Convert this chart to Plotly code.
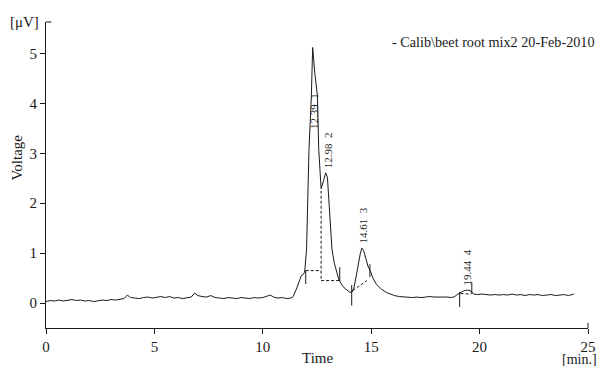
import plotly.graph_objects as go

# ---- chromatogram signal ----
time_min = [
    0.0, 0.2, 0.4, 0.6, 0.8, 1.0, 1.2, 1.4, 1.6, 1.8, 2.0, 2.2, 2.4, 2.6, 2.8,
    3.0, 3.2, 3.4, 3.6, 3.75, 3.9, 4.1, 4.3, 4.5, 4.7, 4.9, 5.1, 5.3, 5.5, 5.7,
    5.9, 6.1, 6.3, 6.5, 6.7, 6.85, 7.0, 7.2, 7.4, 7.6, 7.8, 8.0, 8.2, 8.4, 8.6,
    8.8, 9.0, 9.2, 9.4, 9.6, 9.8, 10.0, 10.2, 10.35, 10.5, 10.7, 10.9, 11.1,
    11.3, 11.4, 11.55, 11.7, 11.78, 11.86, 11.93, 12.02, 12.13, 12.24, 12.30,
    12.40, 12.52, 12.58, 12.69, 12.80, 12.90, 12.98, 13.05, 13.19, 13.3, 13.4,
    13.5, 13.6, 13.7, 13.8, 13.9, 14.0, 14.1, 14.2, 14.3, 14.4, 14.5, 14.57,
    14.65, 14.75, 14.85, 14.98, 15.1, 15.25, 15.47, 15.7, 15.9, 16.07, 16.3,
    16.5, 16.7, 16.9, 17.1, 17.3, 17.5, 17.7, 17.9, 18.1, 18.3, 18.5, 18.7,
    18.85, 19.0, 19.15, 19.3, 19.45, 19.6, 19.72, 19.9, 20.1, 20.3, 20.5, 20.7,
    20.9, 21.1, 21.3, 21.5, 21.7, 21.9, 22.1, 22.3, 22.5, 22.7, 22.9, 23.1,
    23.3, 23.5, 23.7, 23.9, 24.1, 24.35,
]
voltage_uv = [
    0.03, 0.05, 0.04, 0.06, 0.04, 0.05, 0.07, 0.05, 0.06, 0.04, 0.05, 0.03,
    0.05, 0.06, 0.05, 0.07, 0.06, 0.07, 0.09, 0.16, 0.11, 0.10, 0.09, 0.11,
    0.12, 0.10, 0.12, 0.13, 0.11, 0.13, 0.10, 0.11, 0.09, 0.11, 0.12, 0.20,
    0.15, 0.13, 0.12, 0.15, 0.11, 0.10, 0.09, 0.11, 0.10, 0.09, 0.11, 0.10,
    0.09, 0.11, 0.10, 0.11, 0.13, 0.16, 0.12, 0.10, 0.11, 0.09, 0.10, 0.13,
    0.28, 0.48, 0.55, 0.57, 0.62, 1.08, 3.08, 4.15, 5.12, 4.60, 4.15, 3.08,
    2.29, 2.45, 2.61, 2.52, 2.10, 1.08, 0.80, 0.62, 0.48, 0.40, 0.33, 0.29,
    0.25, 0.22, 0.21, 0.30, 0.52, 0.78, 1.00, 1.10, 1.05, 0.90, 0.74, 0.62,
    0.48, 0.37, 0.28, 0.21, 0.17, 0.15, 0.13, 0.12, 0.12, 0.11, 0.12, 0.11,
    0.12, 0.13, 0.12, 0.12, 0.13, 0.12, 0.11, 0.13, 0.18, 0.22, 0.25, 0.26,
    0.24, 0.18, 0.17, 0.18, 0.17, 0.16, 0.17, 0.16, 0.17, 0.16, 0.18, 0.16,
    0.17, 0.15, 0.17, 0.16, 0.17, 0.15, 0.16, 0.17, 0.15, 0.16, 0.17, 0.15,
    0.18, 0.17,
]

# ---- peak labels ----
peak_rt = [12.39, 12.98, 14.61, 19.44]
peak_no = ["1", "2", "3", "4"]
label_level = [3.84, 3.07, 1.55, 0.72]

# ---- integration markers (solid ticks): time, low, high ----
tick_t = [11.98, 13.55, 14.10, 14.94, 19.08, 19.64]
tick_lo = [0.38, 0.44, -0.05, 0.52, -0.08, 0.18]
tick_hi = [0.66, 0.72, 0.36, 0.78, 0.22, 0.42]

# ---- dashed baselines: (t0, v0, t1, v1) ----
base_t0 = [11.98, 12.69, 12.69, 14.15, 19.12]
base_v0 = [0.65, 2.25, 0.45, 0.25, 0.19]
base_t1 = [12.69, 12.69, 13.55, 14.80, 19.60]
base_v1 = [0.65, 0.45, 0.45, 0.45, 0.18]

x_ticks = [0, 5, 10, 15, 20, 25]
y_ticks = [0, 1, 2, 3, 4, 5]

FONT = "Liberation Serif"
INK = "#1a1a1a"

fig = go.Figure()

fig.add_trace(go.Scatter(x=time_min, y=voltage_uv, mode="lines",
                         line=dict(color=INK, width=1), hoverinfo="skip",
                         showlegend=False))

tx, ty = [], []
for t, lo, hi in zip(tick_t, tick_lo, tick_hi):
    tx += [t, t, None]
    ty += [lo, hi, None]
fig.add_trace(go.Scatter(x=tx, y=ty, mode="lines",
                         line=dict(color=INK, width=1), showlegend=False,
                         hoverinfo="skip"))

bx, by = [], []
for a, b, c, d in zip(base_t0, base_v0, base_t1, base_v1):
    bx += [a, c, None]
    by += [b, d, None]
fig.add_trace(go.Scatter(x=bx, y=by, mode="lines",
                         line=dict(color=INK, width=1, dash="3px,2px"),
                         showlegend=False, hoverinfo="skip"))

for rt, no, lv in zip(peak_rt, peak_no, label_level):
    fig.add_annotation(x=rt, y=lv, xref="x", yref="y",
                       text=f"{rt:.2f}  {no}", textangle=-90, showarrow=False,
                       font=dict(family=FONT, size=11, color=INK))

fig.add_annotation(xref="paper", yref="paper", x=0, y=1, xshift=-5,
                   xanchor="right", yanchor="middle", text="[μV]",
                   showarrow=False, font=dict(family=FONT, size=15, color=INK))
fig.add_annotation(xref="paper", yref="paper", x=0, y=0.557, xshift=-29,
                   xanchor="center", yanchor="middle", text="Voltage",
                   textangle=-90, showarrow=False,
                   font=dict(family=FONT, size=15, color=INK))
fig.add_annotation(xref="paper", yref="paper", x=0.5, y=0, yshift=-30,
                   xanchor="center", yanchor="middle", text="Time",
                   showarrow=False, font=dict(family=FONT, size=15, color=INK))
fig.add_annotation(xref="paper", yref="paper", x=0.985, y=0, yshift=-31,
                   xanchor="center", yanchor="middle", text="[min.]",
                   showarrow=False, font=dict(family=FONT, size=14, color=INK))
fig.add_annotation(xref="paper", yref="paper", x=0.634, y=0.935,
                   xanchor="left", yanchor="middle",
                   text="- Calib\\beet root mix2 20-Feb-2010",
                   showarrow=False, font=dict(family=FONT, size=14.2, color=INK))

# small end marks on the axes
fig.add_shape(type="line", xref="paper", yref="paper", x0=0, x1=0.01,
              y0=1, y1=1, line=dict(color=INK, width=1))
fig.add_shape(type="line", xref="paper", yref="paper", x0=1, x1=1,
              y0=0, y1=0.017, line=dict(color=INK, width=1))

# the page body adds an 8px offset; size the figure to fit the window
fig.update_layout(
    width=599, height=358,
    margin=dict(l=38, r=11, t=14, b=37),
    paper_bgcolor="white", plot_bgcolor="white",
    font=dict(family=FONT, size=15, color=INK),
    showlegend=False,
)
fig.update_xaxes(range=[0, 25], tickvals=x_ticks, ticks="outside", ticklen=5,
                 tickcolor=INK, showline=True, linecolor=INK, linewidth=1,
                 showgrid=False, zeroline=False,
                 tickfont=dict(family=FONT, size=15, color=INK))
fig.update_yaxes(range=[-0.5, 5.63], tickvals=y_ticks, ticks="outside",
                 ticklen=5, tickcolor=INK, showline=True, linecolor=INK,
                 linewidth=1, showgrid=False, zeroline=False,
                 tickfont=dict(family=FONT, size=15, color=INK))

fig.write_html("out.html")
